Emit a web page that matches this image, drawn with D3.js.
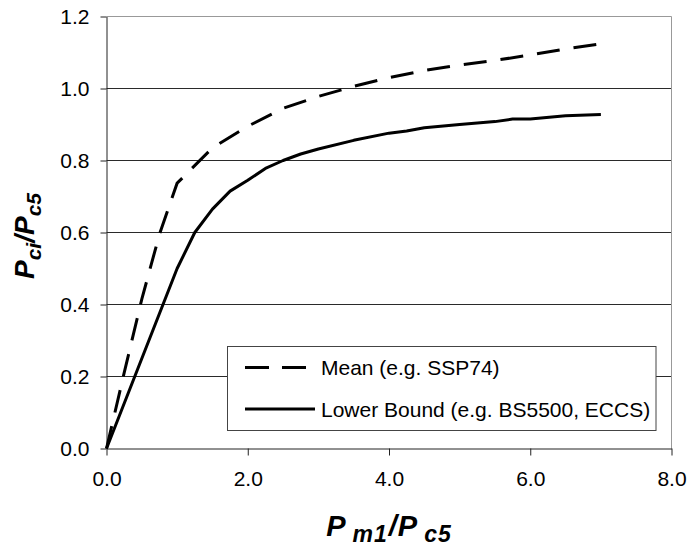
<!DOCTYPE html>
<html>
<head>
<meta charset="utf-8">
<script src="https://cdn.jsdelivr.net/npm/d3@7"></script>
<style>
  html, body { margin: 0; padding: 0; background: #fff; }
  svg { display: block; font-family: "Liberation Sans", Arial, sans-serif; }
</style>
</head>
<body>
<svg id="chart" width="689" height="550"></svg>
<script>
// ---- data ----
const meanX = [0, 0.25, 0.5, 0.75, 1.0, 1.5, 2.0, 2.5, 3.0, 3.5, 4.0, 4.5, 5.0, 5.5, 6.0, 6.5, 7.0];
const meanY = [0, 0.21, 0.415, 0.595, 0.737, 0.835, 0.895, 0.945, 0.978, 1.006, 1.03, 1.05, 1.065, 1.078, 1.093, 1.11, 1.124];
const lowerX = [0, 0.5, 1.0, 1.25, 1.5, 1.75, 2.0, 2.25, 2.5, 2.75, 3.0, 3.5, 4.0, 4.25, 4.5, 5.0, 5.5, 5.75, 6.0, 6.5, 7.0];
const lowerY = [0, 0.25, 0.5, 0.6, 0.665, 0.715, 0.745, 0.778, 0.8, 0.818, 0.832, 0.856, 0.876, 0.882, 0.891, 0.9, 0.908, 0.915, 0.915, 0.924, 0.928];
const xTicks = [0, 2, 4, 6, 8];
const yTicks = [0, 0.2, 0.4, 0.6, 0.8, 1.0, 1.2];
const seriesNames = ["Mean (e.g. SSP74)", "Lower Bound (e.g. BS5500, ECCS)"];

const svg = d3.select("#chart");
const x = d3.scaleLinear().domain([0, 8]).range([106.5, 671.5]);
const y = d3.scaleLinear().domain([0, 1.2]).range([448.5, 16.5]);
const fmt = d3.format(".1f");

// gridlines
svg.append("g").selectAll("line")
  .data(yTicks.filter(t => t > 0 && t < 1.2))
  .join("line")
  .attr("x1", x(0)).attr("x2", x(8))
  .attr("y1", d => y(d)).attr("y2", d => y(d))
  .attr("stroke", "#2a2a2a").attr("stroke-width", 1);

// frame top & right (grey)
svg.append("line").attr("x1", x(0)).attr("x2", x(8)).attr("y1", y(1.2)).attr("y2", y(1.2))
  .attr("stroke", "#999").attr("stroke-width", 1);
svg.append("line").attr("x1", x(8)).attr("x2", x(8)).attr("y1", y(1.2)).attr("y2", y(0))
  .attr("stroke", "#999").attr("stroke-width", 1);

// axes
const yAxis = d3.axisLeft(y).tickValues(yTicks).tickFormat(fmt).tickSize(6).tickSizeOuter(0).tickPadding(11);
const xAxis = d3.axisBottom(x).tickValues(xTicks).tickFormat(fmt).tickSize(7).tickSizeOuter(0).tickPadding(16);

const gy = svg.append("g").attr("transform", `translate(${x(0)},0)`).call(yAxis);
const gx = svg.append("g").attr("transform", `translate(0,${y(0)})`).call(xAxis);
[gx, gy].forEach(g => {
  g.select(".domain").attr("stroke", "#222");
  g.selectAll(".tick line").attr("stroke", "#222");
  g.selectAll(".tick text").attr("fill", "#000")
    .style("font-size", "21px").style("font-family", "'Liberation Sans', Arial, sans-serif");
});

// lines
const line = d3.line().x(d => x(d[0])).y(d => y(d[1]));
const meanData = meanX.map((v, i) => [v, meanY[i]]);
const lowerData = lowerX.map((v, i) => [v, lowerY[i]]);

svg.append("path").datum(lowerData).attr("d", line)
  .attr("fill", "none").attr("stroke", "#000").attr("stroke-width", 3)
  .attr("stroke-linejoin", "round");
svg.append("path").datum(meanData).attr("d", line)
  .attr("fill", "none").attr("stroke", "#000").attr("stroke-width", 3)
  .attr("stroke-dasharray", "23,14");

// legend
const lg = svg.append("g");
lg.append("rect").attr("x", 227.5).attr("y", 346.5).attr("width", 428.5).attr("height", 84)
  .attr("fill", "#fff").attr("stroke", "#444").attr("stroke-width", 1);
lg.append("line").attr("x1", 245).attr("x2", 307).attr("y1", 367.5).attr("y2", 367.5)
  .attr("stroke", "#000").attr("stroke-width", 3).attr("stroke-dasharray", "24,13");
lg.append("line").attr("x1", 245).attr("x2", 315).attr("y1", 409).attr("y2", 409)
  .attr("stroke", "#000").attr("stroke-width", 3);
lg.append("text").attr("x", 321).attr("y", 375).style("font-size", "21px").text(seriesNames[0]);
lg.append("text").attr("x", 321).attr("y", 416.5).style("font-size", "21px").text(seriesNames[1]);

// axis titles
const xt = svg.append("text").attr("x", 389).attr("y", 536).attr("text-anchor", "middle")
  .style("font-weight", "bold").style("font-style", "italic").style("font-size", "29px")
  .style("letter-spacing", "1px");
xt.append("tspan").text("P");
xt.append("tspan").attr("dy", 6).attr("dx", 6).style("font-size", "23px").text("m1");
xt.append("tspan").attr("dy", -6).attr("dx", 1).text("/P");
xt.append("tspan").attr("dy", 6).attr("dx", 6).style("font-size", "23px").text("c5");

const yt = svg.append("text").attr("transform", "translate(34,236) rotate(-90)").attr("text-anchor", "middle")
  .style("font-weight", "bold").style("font-style", "italic").style("font-size", "28px");
yt.append("tspan").text("P");
yt.append("tspan").attr("dy", 7).style("font-size", "21px").text("ci");
yt.append("tspan").attr("dy", -7).text("/P");
yt.append("tspan").attr("dy", 7).style("font-size", "21px").text("c5");
</script>
</body>
</html>
